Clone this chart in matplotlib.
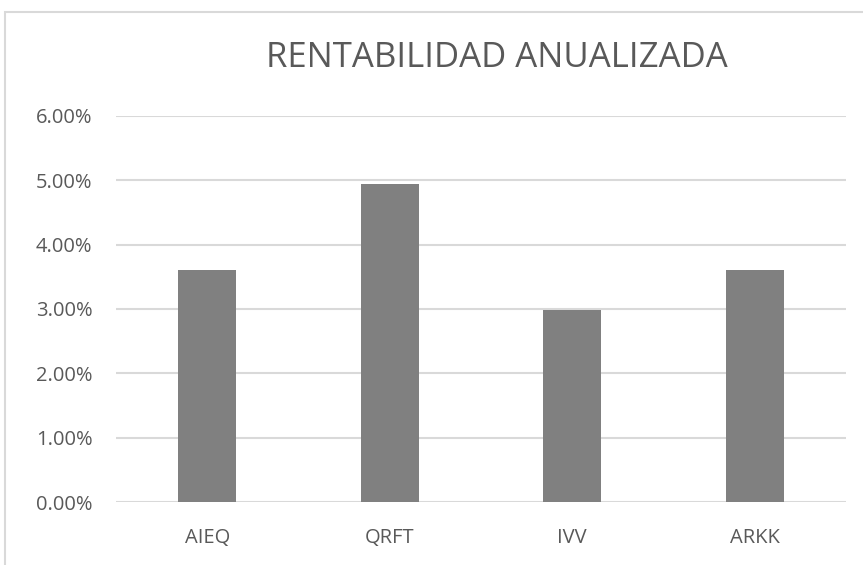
import matplotlib
matplotlib.use("Agg")
import matplotlib.pyplot as plt
from matplotlib.ticker import FuncFormatter
from matplotlib.patches import Rectangle

categories = ["AIEQ", "QRFT", "IVV", "ARKK"]
values = [3.60, 4.94, 2.99, 3.60]  # percent
yticks = [0, 1, 2, 3, 4, 5, 6]
title = "RENTABILIDAD ANUALIZADA"

W, H = 863, 565
fig = plt.figure(figsize=(W / 100, H / 100), dpi=100)
fig.patch.set_facecolor("white")

# chart border (Excel-style, partly cropped)
fig.add_artist(Rectangle((5 / W, -0.01), 1.0, 1 - 12 / H + 0.01, transform=fig.transFigure,
                         fill=False, edgecolor="#d9d9d9", linewidth=1.5))

ax = fig.add_axes([116 / W, 1 - 502 / H, 730 / W, (502 - 116) / H])
x = list(range(len(categories)))
ax.bar(x, values, width=0.318, color="#808080", zorder=3)
ax.set_xlim(-0.5, len(categories) - 0.5)
ax.set_ylim(0, 6)
ax.set_yticks(yticks)
ax.yaxis.set_major_formatter(FuncFormatter(lambda v, p: f"{v:.2f}%"))
ax.set_xticks(x)
ax.set_xticklabels(categories)
ax.grid(axis="y", color="#d9d9d9", linewidth=1.5, zorder=0)
for s in ax.spines.values():
    s.set_visible(False)
ax.tick_params(axis="both", length=0, colors="#595959", labelsize=14.5)
ax.tick_params(axis="y", pad=17)
ax.tick_params(axis="x", pad=19)
for lab in ax.get_xticklabels() + ax.get_yticklabels():
    lab.set_fontfamily("Open Sans")
    lab.set_color("#595959")

fig.text(497 / W, 1 - 58 / H, title, ha="center", va="center", fontsize=25,
         color="#595959", family="Open Sans")

fig.savefig("out.png", dpi=100, facecolor="white")
